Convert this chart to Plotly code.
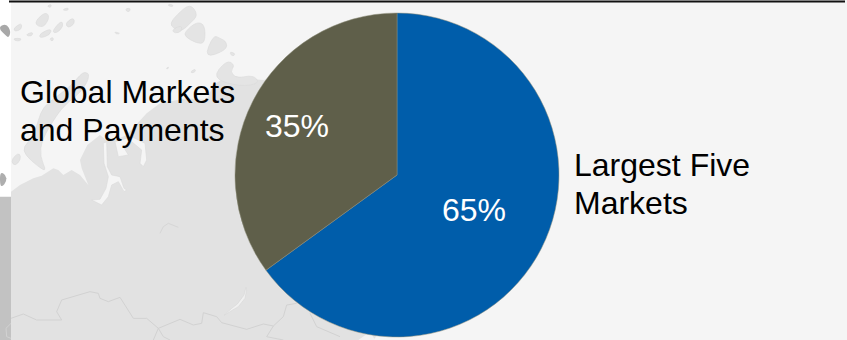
import plotly.graph_objects as go

W, H = 847, 340

# Chart data
categories = ["Largest Five Markets", "Global Markets and Payments"]
values = [65, 35]
slice_colors = ["#005DAA", "#5F5F4A"]
label_lines = [["Largest Five", "Markets"], ["Global Markets", "and Payments"]]

FONT = "Liberation Sans, Arial, sans-serif"
LAND = "#E2E2E2"
SEA = "#F5F5F5"
ISLAND = "#E4E4E4"
BORDER = "#D2D2D2"


def to_paper(point):
    x, y = point
    return x / 3 / W, 1 - y / 3 / H


def px_path(points, closed=True):
    """Build an SVG path in paper units from points held at 3x canvas scale."""
    coords = [to_paper(p) for p in points]
    d = "M" + " L".join(f"{x:.5f},{y:.5f}" for x, y in coords)
    return d + (" Z" if closed else "")


def smooth_path(points):
    """Closed outline rounded with quadratic curves through edge midpoints."""
    coords = [to_paper(p) for p in points]
    n = len(coords)
    mids = [((coords[i][0] + coords[(i + 1) % n][0]) / 2,
             (coords[i][1] + coords[(i + 1) % n][1]) / 2) for i in range(n)]
    d = f"M{mids[-1][0]:.5f},{mids[-1][1]:.5f}"
    for i in range(n):
        d += f" Q{coords[i][0]:.5f},{coords[i][1]:.5f} {mids[i][0]:.5f},{mids[i][1]:.5f}"
    return d + " Z"


def area(points, fill, line=None, smooth=False):
    return dict(type="path", xref="paper", yref="paper", layer="below",
                path=smooth_path(points) if smooth else px_path(points), fillcolor=fill,
                line=dict(width=0.6 if line else 0, color=line or fill))


def stroke(points, color=BORDER, width=1):
    return dict(type="path", xref="paper", yref="paper", layer="below",
                path=px_path(points, closed=False),
                line=dict(width=width, color=color))


shapes = []

# Left margin: white above, grey strip below
shapes.append(area([(0, 0), (33, 0), (33, 1020), (0, 1020)], "#FFFFFF"))
shapes.append(area([(0, 590), (33, 590), (33, 1020), (0, 1020)], "#C2C2C2"))
shapes.append(area([(0, 515), (18, 525), (20, 545), (6, 560), (0, 555)], "#AEAEAE", smooth=True))

# Mainland coast
mainland = [
    (33, 575), (60, 555), (100, 535), (125, 527), (160, 505), (175, 510), (190, 525),
    (215, 510), (240, 525), (265, 555), (245, 505), (240, 480), (262, 435), (300, 405),
    (318, 420), (345, 420), (380, 405), (440, 340), (480, 310), (560, 295), (620, 300),
    (640, 255), (655, 245), (690, 225), (735, 235), (790, 240), (1000, 200), (1300, 300),
    (1300, 800), (1120, 1020), (33, 1020),
]
shapes.append(area(mainland, LAND))

# Gulfs and inlets cut into the coast
shapes.append(area([(310, 430), (320, 425), (322, 500), (335, 525), (360, 530), (372, 565),
                    (380, 570), (372, 575), (355, 545), (335, 555), (325, 590), (305, 615),
                    (275, 600), (300, 598), (318, 565), (325, 530), (312, 490)], SEA, line="#DADADA"))
shapes.append(area([(345, 425), (395, 410), (435, 430), (440, 480), (430, 500), (420, 490),
                    (425, 450), (395, 425), (370, 440), (385, 465), (355, 470)], SEA, line="#DADADA"))

# Lake in the south of the mainland and a smaller one further north
shapes.append(area([(738, 862), (732, 885), (712, 912), (695, 925), (672, 946), (690, 935),
                    (715, 920), (735, 895), (740, 870)], "#F0F0F0", line="#D6D6D6"))
shapes.append(stroke([(480, 700), (490, 680), (505, 670), (535, 682)], color="#D6D6D6"))

# Northern islands
islands = [
    [(270, 225), (255, 215), (240, 225), (215, 255), (170, 290), (130, 320), (115, 360),
     (100, 410), (70, 440), (75, 465), (115, 500), (140, 515), (120, 470), (125, 420),
     (170, 345), (200, 310), (250, 270)],
    [(46, 465), (60, 460), (62, 480), (45, 498), (33, 485)],
    [(510, 70), (530, 45), (570, 10), (595, 45), (570, 70), (545, 95), (520, 85)],
    [(515, 90), (545, 75), (545, 95), (525, 100)],
    [(555, 95), (590, 65), (615, 75), (615, 130), (590, 130), (555, 110)],
    [(612, 175), (640, 105), (660, 115), (680, 125), (680, 150)],
    [(635, 235), (680, 180), (705, 195), (690, 215), (710, 235), (760, 225), (780, 250), (720, 260)],
    [(690, 155), (705, 160), (702, 168), (692, 165)],
    [(505, 12), (520, 15), (518, 20), (505, 18)],
    [(378, 25), (392, 25), (388, 36), (378, 33)],
    [(342, 95), (362, 100), (350, 103)],
    [(498, 205), (507, 200), (503, 208)],
    [(572, 215), (586, 206), (586, 216), (575, 219)],
    [(195, 70), (220, 52), (225, 70), (205, 85)],
    [(155, 95), (185, 60), (190, 80), (170, 100)],
    [(120, 100), (155, 85), (150, 105), (118, 115)],
    [(100, 70), (135, 35), (150, 50), (130, 85)],
    [(185, 30), (205, 22), (205, 32)],
    [(140, 18), (155, 12), (152, 24)],
    [(75, 105), (100, 95), (95, 110)],
    [(40, 85), (65, 68), (65, 88), (45, 95)],
    [(40, 115), (65, 115), (60, 123), (45, 122)],
    [(150, 115), (160, 112), (160, 122), (152, 122)],
]
shapes.extend(area(p, ISLAND, line="#DADADA", smooth=True) for p in islands)
shapes.append(area([(0, 78), (20, 72), (33, 95), (25, 115), (12, 100), (0, 90)], "#A8A8A8", smooth=True))

# Land borders in the south
borders = [
    [(33, 955), (70, 942), (110, 960), (185, 960), (170, 935), (185, 900), (270, 875),
     (295, 880), (300, 895), (325, 905), (360, 892), (400, 955), (440, 955), (475, 985),
     (540, 958), (580, 975), (605, 970), (610, 938), (650, 950), (665, 968), (740, 988),
     (790, 972), (820, 978), (850, 950), (860, 915), (890, 910)],
    [(475, 985), (490, 1010), (510, 1020)],
    [(475, 985), (460, 1020)],
    [(820, 978), (800, 1010), (850, 1020)],
    [(930, 940), (950, 980), (1020, 1010)],
    [(33, 970), (18, 985), (20, 1010), (33, 1015)],
]
shapes.extend(stroke(p) for p in borders)

# Pale sea patch at the foot of the pie
shapes.append(area([(1075, 1020), (1110, 995), (1125, 1020)], "#F2F2F2"))

# Rule along the top edge
shapes.append(dict(type="line", xref="paper", yref="paper", x0=9 / W, x1=845 / W,
                   y0=1 - 1.5 / H, y1=1 - 1.5 / H, line=dict(color="#111111", width=2)))

fig = go.Figure(go.Pie(
    labels=categories,
    values=values,
    sort=False,
    direction="clockwise",
    rotation=0,
    textinfo="none",
    hoverinfo="label+percent",
    showlegend=False,
    marker=dict(colors=slice_colors, line=dict(color="#8F8F7A", width=0.5)),
    domain=dict(x=[235 / W, 559 / W], y=[1 - 337 / H, 1 - 13 / H]),
))


def note(text, x, y, color="#000000", anchor="left"):
    return dict(text=text, x=x / W, y=1 - y / H, xref="paper", yref="paper",
                xanchor=anchor, yanchor="middle", showarrow=False,
                font=dict(family=FONT, size=32, color=color))


annotations = [
    note(f"{values[0]}%", 474, 210, "#FFFFFF", "center"),
    note(f"{values[1]}%", 297, 126, "#FFFFFF", "center"),
    note(label_lines[0][0], 572, 165),
    note(label_lines[0][1], 572, 203),
    note(label_lines[1][0], 18, 92),
    note(label_lines[1][1], 18, 130),
]

fig.update_layout(
    width=W, height=H,
    margin=dict(l=0, r=0, t=0, b=0),
    paper_bgcolor=SEA,
    shapes=shapes,
    annotations=annotations,
)

fig.write_html("out.html")
